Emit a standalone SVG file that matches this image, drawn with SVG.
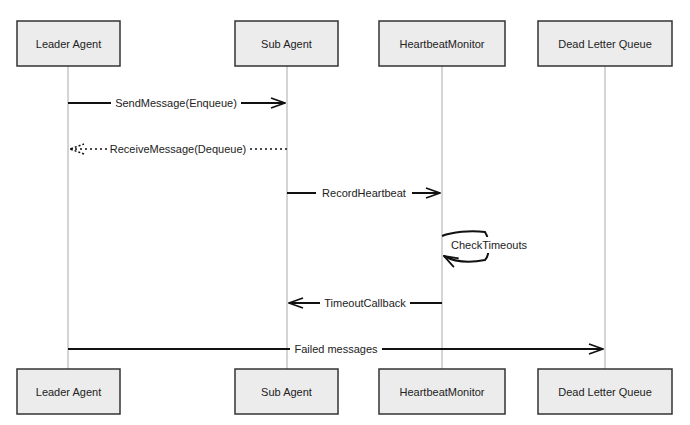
<svg xmlns="http://www.w3.org/2000/svg" width="690" height="425" viewBox="0 0 690 425">
<style>
.box{fill:#ececec;stroke:#333;stroke-width:1.5}
.life{stroke:#aaa;stroke-width:1}
.t{font-family:"Liberation Sans",Arial,sans-serif;font-size:11px;fill:#222;text-anchor:middle;dominant-baseline:central}
.msg{stroke:#111;stroke-width:2;fill:none}
.dot{stroke:#111;stroke-width:1.5;fill:none;stroke-dasharray:2 3}
.lbl{fill:#fff}
</style>
<defs>
<marker id="ah" markerWidth="16" markerHeight="12" refX="15" refY="6" orient="auto" markerUnits="userSpaceOnUse">
<path d="M1,1 L15,6 L1,11" fill="none" stroke="#111" stroke-width="1.8"/>
</marker>
<marker id="ahd" markerWidth="16" markerHeight="12" refX="15" refY="6" orient="auto" markerUnits="userSpaceOnUse">
<path d="M1,1 L15,6 L1,11" fill="none" stroke="#111" stroke-width="1.5" stroke-dasharray="2 2"/>
</marker>
</defs>
<g id="lifelines">
<line class="life" x1="68" y1="66" x2="68" y2="369"/>
<line class="life" x1="287" y1="66" x2="287" y2="369"/>
<line class="life" x1="442" y1="66" x2="442" y2="369"/>
<line class="life" x1="605" y1="66" x2="605" y2="369"/>
</g>
<g id="leader-top"><rect class="box" x="17" y="21" width="103" height="45"/><text class="t" x="68.5" y="43.5">Leader Agent</text></g>
<g id="sub-top"><rect class="box" x="235" y="21" width="103" height="45"/><text class="t" x="286.5" y="43.5">Sub Agent</text></g>
<g id="hb-top"><rect class="box" x="379" y="21" width="126" height="45"/><text class="t" x="442" y="43.5">HeartbeatMonitor</text></g>
<g id="dlq-top"><rect class="box" x="538" y="21" width="134" height="45"/><text class="t" x="605" y="43.5">Dead Letter Queue</text></g>
<g id="leader-bottom"><rect class="box" x="17" y="369" width="103" height="45"/><text class="t" x="68.5" y="391.5">Leader Agent</text></g>
<g id="sub-bottom"><rect class="box" x="235" y="369" width="103" height="45"/><text class="t" x="286.5" y="391.5">Sub Agent</text></g>
<g id="hb-bottom"><rect class="box" x="379" y="369" width="126" height="45"/><text class="t" x="442" y="391.5">HeartbeatMonitor</text></g>
<g id="dlq-bottom"><rect class="box" x="538" y="369" width="134" height="45"/><text class="t" x="605" y="391.5">Dead Letter Queue</text></g>
<g id="connectors">
<line class="msg" x1="68" y1="103" x2="285" y2="103" marker-end="url(#ah)"/>
<rect class="lbl" x="111" y="95" width="130" height="16"/>
<text class="t" x="176" y="103">SendMessage(Enqueue)</text>
<line class="dot" x1="287" y1="149" x2="70" y2="149" marker-end="url(#ahd)"/>
<rect class="lbl" x="109" y="141" width="138" height="16"/>
<text class="t" x="178" y="149">ReceiveMessage(Dequeue)</text>
<line class="msg" x1="287" y1="193" x2="440" y2="193" marker-end="url(#ah)"/>
<rect class="lbl" x="316" y="185" width="96" height="16"/>
<text class="t" x="364" y="193">RecordHeartbeat</text>
<path class="msg" d="M442,236 C452,232 470,230 485,232 C490,240 490,255 485,260 C470,263 455,262 444,256" marker-end="url(#ah)"/>
<rect class="lbl" x="448" y="237" width="82" height="16"/>
<text class="t" x="489" y="245">CheckTimeouts</text>
<line class="msg" x1="442" y1="303" x2="289" y2="303" marker-end="url(#ah)"/>
<rect class="lbl" x="320" y="295" width="90" height="16"/>
<text class="t" x="365" y="303">TimeoutCallback</text>
<line class="msg" x1="68" y1="349" x2="603" y2="349" marker-end="url(#ah)"/>
<rect class="lbl" x="290" y="341" width="92" height="16"/>
<text class="t" x="336" y="349">Failed messages</text>
</g>
</svg>
